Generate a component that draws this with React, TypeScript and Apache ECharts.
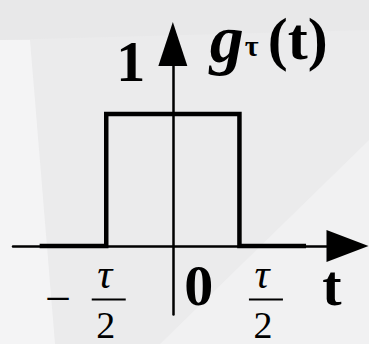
import { useEffect, useRef } from "react";
import * as echarts from "echarts";

// Rectangular pulse g_τ(t): t measured in units of τ/2
const pulseT = [-2, -1, -1, 1, 1, 2];
const pulseG = [0, 0, 1, 1, 0, 0];
const tRange = [-2.4, 2.6];
const gRange = [-0.52, 1.53];

// Axis annotations
const heightLabel = "1";
const originLabel = "0";
const edgeTicks = [-1, 1]; // t = ∓τ/2
const edgeSigns = ["−", ""];
const fracTop = "τ";
const fracBottom = "2";
const tName = "t";
const gName = "g";
const gSub = "τ";
const gArg = "(t)";

const SERIF = "Liberation Serif";
const INK = "#000";

type FontSpec = { size: number; weight?: string; italic?: boolean };

export default function App() {
  const ref = useRef<HTMLDivElement>(null);

  useEffect(() => {
    if (!ref.current) return;
    const chart = echarts.init(ref.current, undefined, { renderer: "svg" });

    chart.setOption({
      animation: false,
      backgroundColor: "#ebebec",
      grid: { left: 13, right: 23, top: 44, bottom: 29.5, containLabel: false },
      xAxis: {
        type: "value",
        min: tRange[0],
        max: tRange[1],
        axisLine: {
          show: true,
          onZero: true,
          lineStyle: { color: INK, width: 2.5 },
          symbol: ["none", "triangle"],
          symbolSize: [32, 42],
          symbolOffset: [0, 1.5],
        },
        axisTick: { show: false },
        axisLabel: { show: false },
        splitLine: { show: false },
      },
      yAxis: {
        type: "value",
        min: gRange[0],
        max: gRange[1],
        axisLine: {
          show: true,
          onZero: true,
          lineStyle: { color: INK, width: 2.5 },
          symbol: ["none", "triangle"],
          symbolSize: [29, 44],
        },
        axisTick: { show: false },
        axisLabel: { show: false },
        splitLine: { show: false },
      },
      series: [
        {
          type: "line",
          data: pulseT.map((t, i) => [t, pulseG[i]]),
          symbol: "none",
          lineStyle: { color: INK, width: 4.5, join: "miter", cap: "butt" },
          z: 3,
        },
      ],
    });

    const px = (p: number[]) => chart.convertToPixel({ gridIndex: 0 }, p) as number[];
    const origin = px([0, 0]);
    const top = px([0, 1]);
    const tEnd = px([tRange[1], 0]);
    const gEnd = px([0, gRange[1]]);

    const fontOf = (f: FontSpec) => ({
      fontSize: f.size,
      fontWeight: f.weight || "normal",
      fontStyle: f.italic ? "italic" : "normal",
      fontFamily: SERIF,
    });

    const txt = (x: number, y: number, text: string, f: FontSpec, align = "center") => ({
      type: "text",
      x,
      y,
      z: 10,
      style: { text, ...fontOf(f), fill: INK, align, verticalAlign: "middle" },
    });

    const graphics: any[] = [
      // soft background facets
      {
        type: "polygon",
        z: -10,
        shape: { points: [[0, 40], [30, 40], [55, 344], [0, 344]] },
        style: { fill: "#f4f4f5" },
      },
      {
        type: "polygon",
        z: -10,
        shape: { points: [[0, 0], [369, 0], [369, 30], [0, 40]] },
        style: { fill: "#e8e8e9" },
      },
      {
        type: "polygon",
        z: -10,
        shape: { points: [[160, 344], [369, 140], [369, 344]] },
        style: { fill: "#f1f1f2" },
      },
      txt(top[0] - 42, top[1] - 52, heightLabel, { size: 58, weight: "bold" }),
      txt(origin[0] + 26, origin[1] + 40, originLabel, { size: 58, weight: "bold" }),
      txt(tEnd[0] - 14, tEnd[1] + 40, tName, { size: 58, weight: "bold" }),
      {
        type: "text",
        x: gEnd[0] + 37,
        y: gEnd[1] - 5,
        z: 10,
        style: {
          text: `{g|${gName}}{s|${gSub}}{p|${gArg}}`,
          align: "left",
          verticalAlign: "middle",
          rich: {
            g: { ...fontOf({ size: 68, weight: "bold", italic: true }), fill: INK, verticalAlign: "middle" },
            s: { ...fontOf({ size: 30, weight: "bold" }), fill: INK, verticalAlign: "middle", padding: [12, 0, 0, 1] },
            p: { ...fontOf({ size: 60, weight: "bold" }), fill: INK, verticalAlign: "middle", padding: [0, 0, 0, 9] },
          },
        },
      },
    ];

    const fracShift = [2.5, 26.5];
    edgeTicks.forEach((t, i) => {
      const p = px([t, 0]);
      const cx = p[0] + fracShift[i];
      graphics.push(
        txt(cx - 4, p[1] + 28, fracTop, { size: 42, italic: true }),
        {
          type: "line",
          z: 10,
          shape: { x1: cx - 17, y1: p[1] + 53.5, x2: cx + 17, y2: p[1] + 53.5 },
          style: { stroke: INK, lineWidth: 2 },
        },
        txt(cx - 3, p[1] + 79, fracBottom, { size: 38 })
      );
      if (edgeSigns[i]) {
        graphics.push(txt(p[0] - 48, p[1] + 53, edgeSigns[i], { size: 46 }));
      }
    });

    chart.setOption({ graphic: graphics });

    return () => chart.dispose();
  }, []);

  return (
    <div
      ref={ref}
      style={{ position: "fixed", left: 0, top: 0, width: 369, height: 344 }}
    />
  );
}
